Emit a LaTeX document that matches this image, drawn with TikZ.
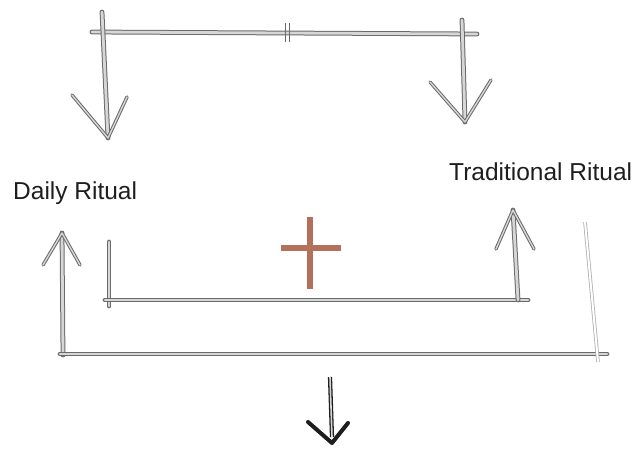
\documentclass[tikz,border=0pt]{standalone}
\usepackage{fontspec}
\setmainfont{Liberation Sans}
\usepackage{tikz}
\usetikzlibrary{arrows.meta,calc,positioning}
\definecolor{Pencil}{HTML}{6A6A6A}
\definecolor{Lead}{HTML}{D6D6D6}
\definecolor{Faint}{HTML}{B0B0B0}
\definecolor{Ink}{HTML}{1E1E1E}
\definecolor{Terra}{HTML}{B3705A}

\begin{document}
\begin{tikzpicture}[x=1pt,y=-1pt,
    sketch/.style={draw=Pencil,line width=1pt,double=Lead,double distance=2.8pt,line cap=round},
    arm/.style={draw=Pencil,line width=1pt,double=Lead,double distance=1.4pt,line cap=round,line join=round},
    faint/.style={draw=Faint,line width=0.8pt,double=white,double distance=2pt},
    bold/.style={draw=Ink,line width=4pt,line cap=round,line join=round},
    cross/.style={draw=Terra,line width=6pt},
    label/.style={anchor=base west,inner sep=0pt,text=Ink,font=\fontsize{24.5}{29}\selectfont}]
    \useasboundingbox (0,0) rectangle (636,449);

    % top split
    \coordinate (tl) at (92,32);
    \coordinate (tr) at (477,34);
    \coordinate (dl0) at (102,12);
    \coordinate (dl) at (108,138);
    \coordinate (dr0) at (462,20);
    \coordinate (dr) at (465,122);
    \draw[sketch] (tl) -- (tr);
    \draw[Pencil,line width=0.9pt] (285,23) -- (285,42) (289,23) -- (289,42);
    \draw[sketch] (dl0) -- (dl);
    \draw[sketch] (dr0) -- (dr);
    \draw[arm] (72,95) -- (dl) -- (127,97);
    \draw[arm] (430,82) -- (dr) -- (491,80);

    \node[label] (daily) at (13,199) {Daily Ritual};
    \node[label] (trad) at (449,180) {Traditional Ritual};

    % merge
    \coordinate (plus) at (310,248);
    \draw[cross] ($(plus)+(0,-31)$) -- ($(plus)+(0,41)$) ($(plus)+(-29,0)$) -- ($(plus)+(31,0)$);

    \coordinate (ul0) at (63,355);
    \coordinate (ul) at (62,233);
    \coordinate (il0) at (109,242);
    \coordinate (il) at (109,306);
    \coordinate (ib0) at (105,300);
    \coordinate (ib) at (528,300);
    \coordinate (ur0) at (518,300);
    \coordinate (ur) at (513,210);
    \coordinate (bl) at (60,354);
    \coordinate (br) at (607,354);
    \coordinate (fr0) at (585,222);
    \coordinate (fr) at (598,362);
    \draw[sketch] (ul0) -- (ul);
    \draw[arm] (43,265) -- (ul) -- (80,265);
    \draw[sketch] (il0) -- (il);
    \draw[sketch] (ib0) -- (ib);
    \draw[sketch] (ur0) -- (ur);
    \draw[arm] (496,249) -- (ur) -- (534,249);
    \draw[sketch] (bl) -- (br);
    \draw[faint] (fr0) -- (fr);

    % result
    \coordinate (out0) at (330,377);
    \coordinate (out) at (332,443);
    \draw[draw=Ink,line width=1.3pt,double=Lead,double distance=1.6pt] (out0) -- ($(out)+(0,-6)$);
    \draw[bold] (308,422) -- (out) -- (348,423);
  \end{tikzpicture}
\end{document}
